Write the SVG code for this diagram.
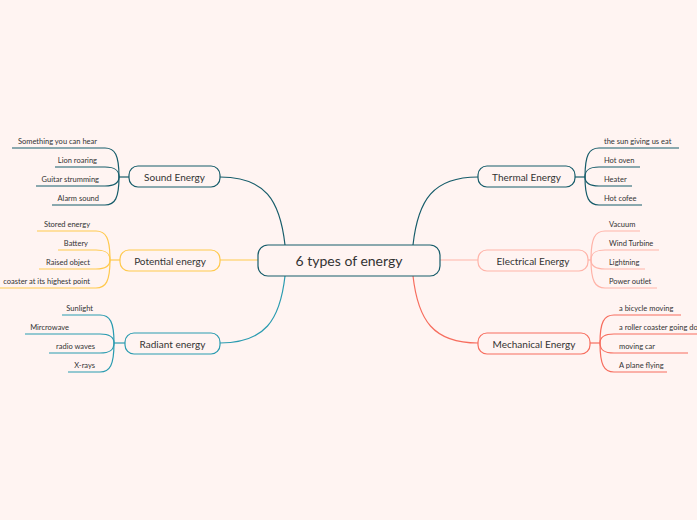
<svg xmlns="http://www.w3.org/2000/svg" width="697" height="520" viewBox="0 0 697 520">
<style>
text{font-family:Lato,"Noto Sans","Liberation Sans",sans-serif;fill:#333}
.leaf{font-size:7.5px}
.n{font-size:10px;text-anchor:middle}
.c{fill:none;stroke-width:1.2}
rect{fill:#fff4f2;stroke-width:1.2}
</style>
<rect x="0" y="0" width="697" height="520" style="fill:#fff4f2;stroke:none"/>
<g id="connectors">
<path class="c" stroke="#165c6a" stroke-width="1.5" d="M220 177 C265 177 280 200 285 245"/>
<path class="c" stroke="#ffc94d" stroke-width="1.5" d="M220 260 L258 260"/>
<path class="c" stroke="#2a9bb0" stroke-width="1.5" d="M220 343 C265 343 280 320 285 276"/>
<path class="c" stroke="#165c6a" stroke-width="1.5" d="M478 177 C433 177 418 200 413 245"/>
<path class="c" stroke="#ffb3a8" stroke-width="1.5" d="M440 260 L478 260"/>
<path class="c" stroke="#f76d5e" stroke-width="1.5" d="M478 343 C433 343 418 320 413 276"/>
<g stroke="#165c6a" class="c">
<path d="M129 177 H119"/>
<path d="M119 177 C119 155 115 148 105 148 H12"/>
<path d="M119 177 C119 170 115 167 105 167 H55"/>
<path d="M119 177 C119 183 115 186 105 186 H36"/>
<path d="M119 177 C119 198 115 205 105 205 H52"/>
</g>
<g stroke="#ffc94d" class="c">
<path d="M120 260 H110"/>
<path d="M110 260 C110 238 106 231 96 231 H37"/>
<path d="M110 260 C110 253 106 250 96 250 H58"/>
<path d="M110 260 C110 266 106 269 96 269 H39"/>
<path d="M110 260 C110 281 106 288 96 288 H0"/>
</g>
<g stroke="#2a9bb0" class="c">
<path d="M125 343 H114"/>
<path d="M114 343 C114 322 110 315 100 315 H62"/>
<path d="M114 343 C114 337 110 334 100 334 H25"/>
<path d="M114 343 C114 350 110 353 100 353 H49"/>
<path d="M114 343 C114 365 110 372 100 372 H68"/>
</g>
<g stroke="#165c6a" class="c">
<path d="M575 177 H585"/>
<path d="M585 177 C585 155 589 148 599 148 H679"/>
<path d="M585 177 C585 170 589 167 599 167 H640"/>
<path d="M585 177 C585 183 589 186 599 186 H632"/>
<path d="M585 177 C585 198 589 205 599 205 H642"/>
</g>
<g stroke="#ffb3a8" class="c">
<path d="M588 260 H591"/>
<path d="M591 260 C591 238 595 231 605 231 H640"/>
<path d="M591 260 C591 253 595 250 605 250 H659"/>
<path d="M591 260 C591 266 595 269 605 269 H645"/>
<path d="M591 260 C591 281 595 288 605 288 H657"/>
</g>
<g stroke="#f76d5e" class="c">
<path d="M590 343 H600"/>
<path d="M600 343 C600 322 604 315 614 315 H681"/>
<path d="M600 343 C600 337 604 334 614 334 H697"/>
<path d="M600 343 C600 350 604 353 614 353 H688"/>
<path d="M600 343 C600 365 604 372 614 372 H667"/>
</g>
</g>
<g id="center"><rect x="258" y="245" width="182" height="31" rx="10" stroke="#165c6a" stroke-width="2"/><text x="349" y="266" class="n" style="font-size:14px">6 types of energy</text></g>
<g id="sound"><rect x="129" y="166" width="91" height="21" rx="9" stroke="#165c6a"/><text x="174.5" y="180.5" class="n">Sound Energy</text></g>
<g id="potential"><rect x="120" y="250" width="100" height="21" rx="9" stroke="#ffc94d"/><text x="170" y="264.5" class="n">Potential energy</text></g>
<g id="radiant"><rect x="125" y="333" width="95" height="21" rx="9" stroke="#2a9bb0"/><text x="172.5" y="347.5" class="n">Radiant energy</text></g>
<g id="thermal"><rect x="478" y="166" width="97" height="21" rx="9" stroke="#165c6a"/><text x="526.5" y="180.5" class="n">Thermal Energy</text></g>
<g id="electrical"><rect x="478" y="250" width="110" height="21" rx="9" stroke="#ffb3a8"/><text x="533" y="264.5" class="n">Electrical Energy</text></g>
<g id="mechanical"><rect x="478" y="333" width="112" height="21" rx="9" stroke="#f76d5e"/><text x="534" y="347.5" class="n">Mechanical Energy</text></g>
<g id="leaves-left" class="leaf" text-anchor="end">
<text x="97" y="144" class="leaf">Something you can hear</text>
<text x="97" y="163" class="leaf">Lion roaring</text>
<text x="99" y="182" class="leaf">Guitar strumming</text>
<text x="99" y="201" class="leaf">Alarm sound</text>
<text x="90" y="227" class="leaf">Stored energy</text>
<text x="88" y="246" class="leaf">Battery</text>
<text x="90" y="265" class="leaf">Raised object</text>
<text x="90" y="284" class="leaf">coaster at its highest point</text>
<text x="93" y="311" class="leaf">Sunlight</text>
<text x="69" y="330" class="leaf">Mircrowave</text>
<text x="95" y="349" class="leaf">radio waves</text>
<text x="95" y="368" class="leaf">X-rays</text>
</g>
<g id="leaves-right" class="leaf">
<text x="604" y="144" class="leaf">the sun giving us eat</text>
<text x="604" y="163" class="leaf">Hot oven</text>
<text x="604" y="182" class="leaf">Heater</text>
<text x="604" y="201" class="leaf">Hot cofee</text>
<text x="609" y="227" class="leaf">Vacuum</text>
<text x="609" y="246" class="leaf">Wind Turbine</text>
<text x="609" y="265" class="leaf">Lightning</text>
<text x="609" y="284" class="leaf">Power outlet</text>
<text x="619" y="311" class="leaf">a bicycle moving</text>
<text x="619" y="330" class="leaf">a roller coaster going down</text>
<text x="619" y="349" class="leaf">moving car</text>
<text x="619" y="368" class="leaf">A plane flying</text>
</g>
</svg>
